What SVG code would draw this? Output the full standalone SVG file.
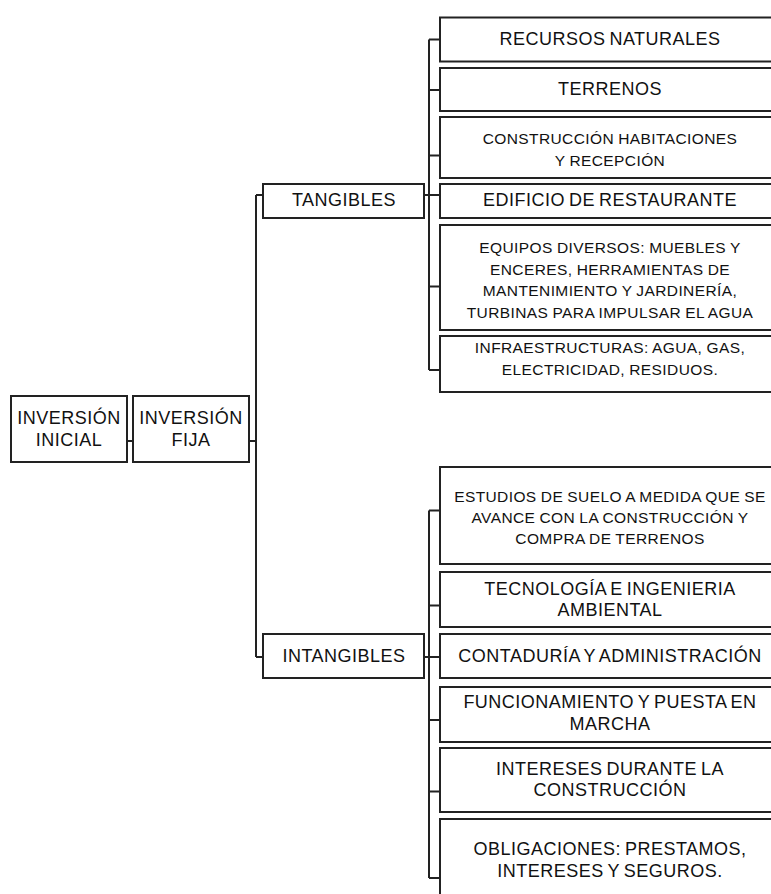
<svg xmlns="http://www.w3.org/2000/svg" width="771" height="894" viewBox="0 0 771 894">
<style>
.box{fill:#fff;stroke:#222;stroke-width:2}
.ln{fill:none;stroke:#222;stroke-width:2}
text{font-family:"Liberation Sans",Arial,sans-serif;fill:#111;text-anchor:middle}
.b{font-size:18px;letter-spacing:0.5px;word-spacing:-1.5px}
.s{font-size:15.5px;letter-spacing:0.4px;word-spacing:-0.5px}
</style>
<rect width="771" height="894" fill="#fff"/>
<g id="connectors">
<path class="ln" d="M127,441H133M249,441H256M256,195V657M256,195H263M256,657H263"/>
<path class="ln" d="M424,195H440M429,39.5V370M429,39.5H440M429,90H440M429,155.5H440M429,286.5H440M429,370H440"/>
<path class="ln" d="M424,657H440M429,510.5V878M429,510.5H440M429,605.5H440M429,720H440M429,791.5H440M429,878H440"/>
</g>
<g id="inversion-inicial"><rect class="box" x="11" y="396" width="116" height="66"/><text class="b" x="69" y="424">INVERSIÓN</text><text class="b" x="69" y="446">INICIAL</text></g>
<g id="inversion-fija"><rect class="box" x="133" y="396" width="116" height="66"/><text class="b" x="191" y="424">INVERSIÓN</text><text class="b" x="191" y="446">FIJA</text></g>
<g id="tangibles"><rect class="box" x="263" y="184" width="161" height="34"/><text class="b" x="344" y="205.5">TANGIBLES</text></g>
<g id="intangibles"><rect class="box" x="263" y="634" width="161" height="44"/><text class="b" x="344" y="662">INTANGIBLES</text></g>
<g id="recursos"><rect class="box" x="440" y="17.5" width="345" height="44"/><text class="b" x="610" y="44.5">RECURSOS NATURALES</text></g>
<g id="terrenos"><rect class="box" x="440" y="68" width="345" height="43"/><text class="b" x="610" y="94.5">TERRENOS</text></g>
<g id="construccion"><rect class="box" x="440" y="117" width="345" height="61"/><text class="s" x="610" y="144">CONSTRUCCIÓN HABITACIONES</text><text class="s" x="610" y="166">Y RECEPCIÓN</text></g>
<g id="edificio"><rect class="box" x="440" y="184" width="345" height="34"/><text class="b" x="610" y="205.5">EDIFICIO DE RESTAURANTE</text></g>
<g id="equipos"><rect class="box" x="440" y="225" width="345" height="105"/><text class="s" x="610" y="253">EQUIPOS DIVERSOS: MUEBLES Y</text><text class="s" x="610" y="274.5">ENCERES, HERRAMIENTAS DE</text><text class="s" x="610" y="296">MANTENIMIENTO Y JARDINERÍA,</text><text class="s" x="610" y="317.5">TURBINAS PARA IMPULSAR EL AGUA</text></g>
<g id="infraestructuras"><rect class="box" x="440" y="336" width="345" height="56"/><text class="s" x="610" y="353">INFRAESTRUCTURAS: AGUA, GAS,</text><text class="s" x="610" y="375">ELECTRICIDAD, RESIDUOS.</text></g>
<g id="estudios"><rect class="box" x="440" y="467" width="345" height="97"/><text class="s" x="610" y="501.5">ESTUDIOS DE SUELO A MEDIDA QUE SE</text><text class="s" x="610" y="523">AVANCE CON LA CONSTRUCCIÓN Y</text><text class="s" x="610" y="544">COMPRA DE TERRENOS</text></g>
<g id="tecnologia"><rect class="box" x="440" y="572" width="345" height="55"/><text class="b" x="610" y="595">TECNOLOGÍA E INGENIERIA</text><text class="b" x="610" y="616">AMBIENTAL</text></g>
<g id="contaduria"><rect class="box" x="440" y="634" width="345" height="44"/><text class="b" x="610" y="662">CONTADURÍA Y ADMINISTRACIÓN</text></g>
<g id="funcionamiento"><rect class="box" x="440" y="687" width="345" height="55"/><text class="b" x="610" y="708">FUNCIONAMIENTO Y PUESTA EN</text><text class="b" x="610" y="729.5">MARCHA</text></g>
<g id="intereses"><rect class="box" x="440" y="748" width="345" height="64"/><text class="b" x="610" y="775">INTERESES DURANTE LA</text><text class="b" x="610" y="795.5">CONSTRUCCIÓN</text></g>
<g id="obligaciones"><rect class="box" x="440" y="819" width="345" height="90"/><text class="b" x="610" y="855">OBLIGACIONES: PRESTAMOS,</text><text class="b" x="610" y="876.5">INTERESES Y SEGUROS.</text></g>
</svg>
